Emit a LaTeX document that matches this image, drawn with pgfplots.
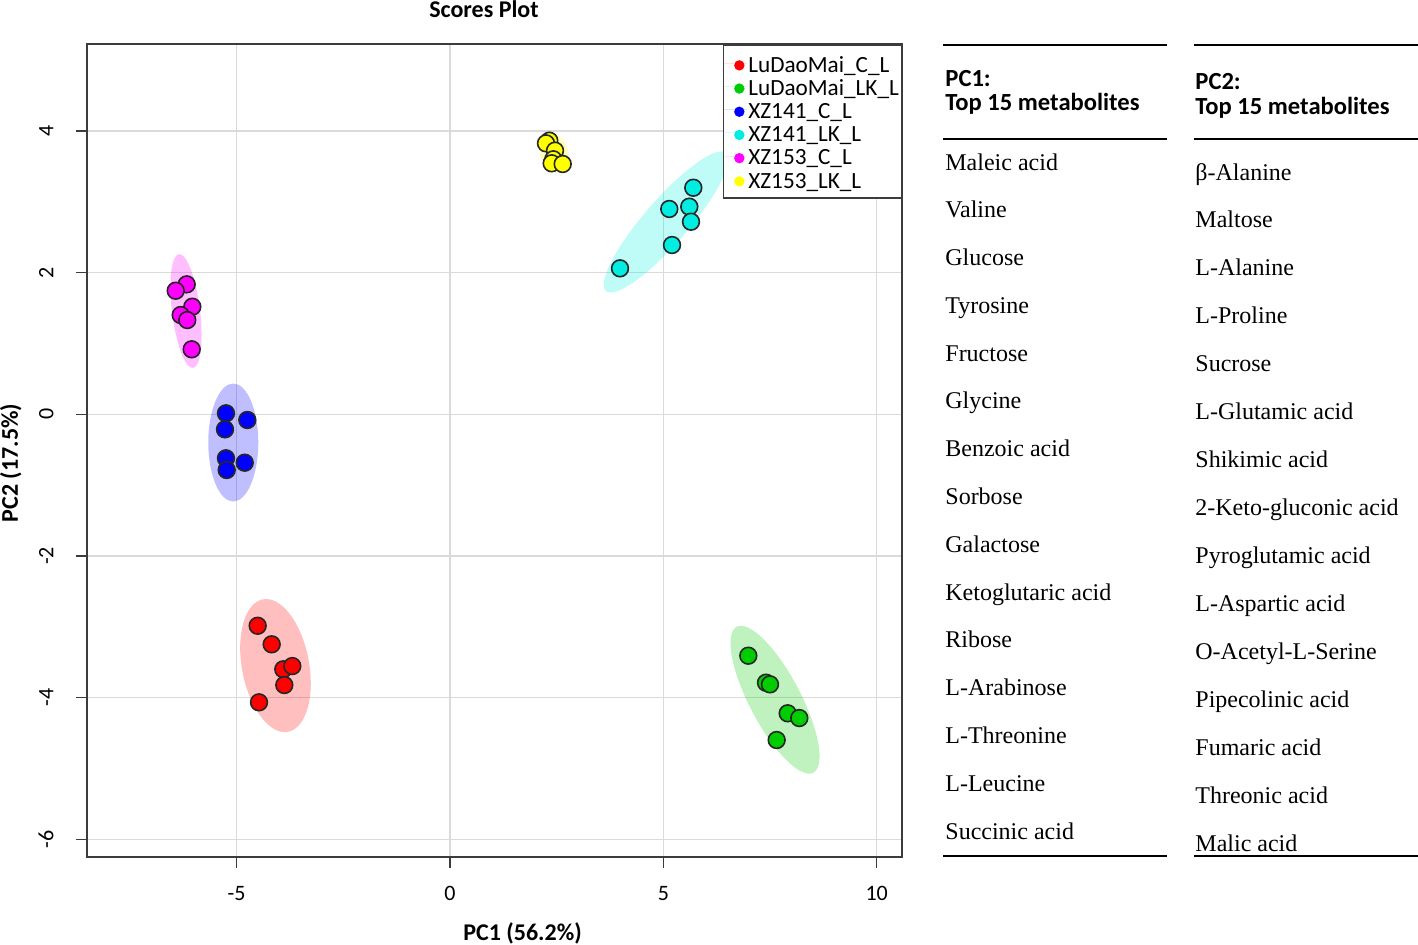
\documentclass[border=0pt]{standalone}
\usepackage{pgfplots}
\usepackage{pgfplotstable}
\pgfplotsset{compat=1.18}
\usepackage{fontspec}
\setmainfont{Carlito}
\newfontfamily\tabfont{Liberation Serif}
\definecolor{cRed}{RGB}{255,0,0}
\definecolor{cGreen}{RGB}{0,205,0}
\definecolor{cBlue}{RGB}{0,0,255}
\definecolor{cCyan}{RGB}{0,238,225}
\definecolor{cMag}{RGB}{255,0,255}
\definecolor{cYel}{RGB}{255,255,0}
\definecolor{gridc}{RGB}{218,218,218}
\definecolor{axc}{RGB}{60,60,60}

\pgfplotstableread{
x y
-4.507 -2.985
-4.179 -3.247
-3.907 -3.600
-3.696 -3.554
-3.883 -3.822
-4.476 -4.066
}\redtab
\pgfplotstableread{
x y
6.991 -3.408
7.406 -3.789
7.499 -3.812
7.914 -4.221
8.186 -4.288
7.656 -4.598
}\greentab
\pgfplotstableread{
x y
-5.250 0.014
-4.750 -0.080
-5.273 -0.212
-5.250 -0.621
-4.811 -0.683
-5.233 -0.786
}\bluetab
\pgfplotstableread{
x y
5.702 3.199
5.139 2.899
5.608 2.931
5.648 2.719
5.203 2.390
3.984 2.061
}\cyantab
\pgfplotstableread{
x y
-6.171 1.835
-6.428 1.745
-6.039 1.519
-6.311 1.402
-6.157 1.331
-6.053 0.918
}\magtab
\pgfplotstableread{
x y
2.327 3.863
2.250 3.826
2.461 3.722
2.421 3.600
2.383 3.544
2.641 3.534
}\yeltab

\begin{document}
\begin{tikzpicture}
\useasboundingbox (0pt,0pt) rectangle (709pt,-472pt);
\begin{axis}[
  at={(43.5pt,-428.5pt)}, anchor=south west,
  scale only axis, width=407.5pt, height=406.5pt,
  xmin=-8.507, xmax=10.593, ymin=-6.25, ymax=5.228,
  xtick={-5,0,5,10}, xticklabels={-5,0,5,10},
  ytick={-6,-4,-2,0,2,4}, yticklabels={-6,-4,-2,0,2,4},
  grid=major, major grid style={draw=gridc, line width=0.75pt},
  axis line style={draw=axc, line width=0.75pt},
  tick style={draw=axc, line width=0.75pt},
  tick align=outside, major tick length=5.5pt,
  tick pos=left,
  ticklabel style={font=\fontsize{11}{13}\selectfont},
  xticklabel style={anchor=base},
  yticklabel style={rotate=90, anchor=base},
  xticklabel shift=16pt, yticklabel shift=11.35pt,
  title={Scores Plot},
  every axis title/.style={at={(axis description cs:0.4871,1.0332)}, anchor=base, font=\bfseries\fontsize{12}{14}\selectfont},
  xlabel={PC1 (56.2\%)},
  xlabel style={at={(axis description cs:0.5344,-0.1021)}, anchor=base, font=\bfseries\fontsize{12}{14}\selectfont},
  ylabel={PC2 (17.5\%)},
  ylabel style={at={(axis description cs:-0.0847,0.4846)}, anchor=base, font=\bfseries\fontsize{12}{14}\selectfont},
  legend style={at={(1,1)}, anchor=north east, draw=axc, line width=0.75pt, fill=white,
    font=\fontsize{11.6}{11.6}\selectfont, inner xsep=0.5pt, inner ysep=3.5pt, row sep=0pt, column sep=0pt,
    nodes={inner xsep=0.7pt, inner ysep=0pt, text height=10.15pt, text depth=1.45pt}},
  legend cell align=left,
  legend image code/.code={\path[draw=none] (0pt,0pt) -- (11.3pt,0pt); \fill[draw=none] (7.5pt,-1pt) circle (2.6pt);},
]
% confidence ellipses
\fill[cRed, fill opacity=0.25] (axis cs:-4.090,-3.547) ellipse [x radius=16.8pt, y radius=33.7pt, rotate=10.7];
\fill[cGreen, fill opacity=0.25] (axis cs:7.617,-4.029) ellipse [x radius=12.85pt, y radius=41.2pt, rotate=27.7];
\fill[cBlue, fill opacity=0.25] (axis cs:-5.079,-0.398) ellipse [x radius=12.5pt, y radius=29.5pt, rotate=0];
\fill[cCyan, fill opacity=0.25] (axis cs:5.062,2.715) ellipse [x radius=45.75pt, y radius=11pt, rotate=49];
\fill[cMag, fill opacity=0.25] (axis cs:-6.187,1.458) ellipse [x radius=7pt, y radius=28.7pt, rotate=7];
\fill[cYel, fill opacity=0.25] (axis cs:2.437,3.703) ellipse [x radius=7pt, y radius=10pt, rotate=20];

\addplot[only marks, mark=*, mark size=4.2pt, draw=black!85, fill=cRed, line width=0.8pt] table {\redtab};
\addlegendentry{LuDaoMai\_C\_L}
\addplot[only marks, mark=*, mark size=4.2pt, draw=black!85, fill=cGreen, line width=0.8pt] table {\greentab};
\addlegendentry{LuDaoMai\_LK\_L}
\addplot[only marks, mark=*, mark size=4.2pt, draw=black!85, fill=cBlue, line width=0.8pt] table {\bluetab};
\addlegendentry{XZ141\_C\_L}
\addplot[only marks, mark=*, mark size=4.2pt, draw=black!85, fill=cCyan, line width=0.8pt] table {\cyantab};
\addlegendentry{XZ141\_LK\_L}
\addplot[only marks, mark=*, mark size=4.2pt, draw=black!85, fill=cMag, line width=0.8pt] table {\magtab};
\addlegendentry{XZ153\_C\_L}
\addplot[only marks, mark=*, mark size=4.2pt, draw=black!85, fill=cYel, line width=0.8pt] table {\yeltab};
\addlegendentry{XZ153\_LK\_L}
\end{axis}

\begin{scope}[x=0.5pt,y=-0.5pt]
\foreach \xa/\xb in {943/1167,1194/1418}{
  \draw[line width=1pt] (\xa,45) -- (\xb,45);
  \draw[line width=1pt] (\xa,139) -- (\xb,139);
  \draw[line width=1pt] (\xa,856) -- (\xb,856);
}
\node[anchor=base west, inner sep=0pt, font=\bfseries\fontsize{12.3}{14}\selectfont] at (945,86.7) {PC1:};
\node[anchor=base west, inner sep=0pt, font=\bfseries\fontsize{12.3}{14}\selectfont] at (945,110) {Top 15 metabolites};
\node[anchor=base west, inner sep=0pt, font=\bfseries\fontsize{12.3}{14}\selectfont] at (1195,89) {PC2:};
\node[anchor=base west, inner sep=0pt, font=\bfseries\fontsize{12.3}{14}\selectfont] at (1195,114) {Top 15 metabolites};
\foreach \t [count=\i from 0] in {Maleic acid, Valine, Glucose, Tyrosine, Fructose, Glycine, Benzoic acid, Sorbose, Galactose, Ketoglutaric acid, Ribose, L-Arabinose, L-Threonine, L-Leucine, Succinic acid}{
  \node[anchor=base west, inner sep=0pt, font=\tabfont\fontsize{12}{14}\selectfont] at (945,{170+47.79*\i}) {\t};
}
\foreach \t [count=\i from 0] in {β-Alanine, Maltose, L-Alanine, L-Proline, Sucrose, L-Glutamic acid, Shikimic acid, 2-Keto-gluconic acid, Pyroglutamic acid, L-Aspartic acid, O-Acetyl-L-Serine, Pipecolinic acid, Fumaric acid, Threonic acid, Malic acid}{
  \node[anchor=base west, inner sep=0pt, font=\tabfont\fontsize{12}{14}\selectfont] at (1195,{180+47.93*\i}) {\t};
}
\end{scope}
\end{tikzpicture}
\end{document}
